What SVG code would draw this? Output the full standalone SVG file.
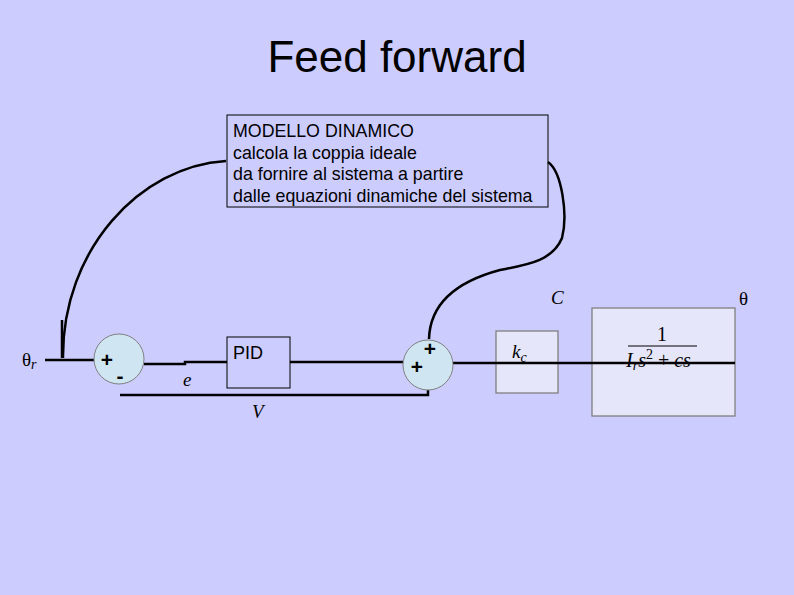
<svg xmlns="http://www.w3.org/2000/svg" width="794" height="595" viewBox="0 0 794 595">
<style>
.sans{font-family:"Liberation Sans",Arial,sans-serif;fill:#000}
.math{font-family:"Liberation Serif","DejaVu Serif",serif;font-style:italic;fill:#000}
.sym{font-family:"Liberation Serif","DejaVu Serif",serif;fill:#000}
.blk{fill:#e6e6fa;stroke:#808080;stroke-width:1.3}
.sum{fill:#cfe6f2;stroke:#808080;stroke-width:1}
.wire{fill:none;stroke:#000;stroke-width:2.5}
.pm{font-family:"Liberation Sans",Arial,sans-serif;font-size:21px;font-weight:bold;fill:#000;text-anchor:middle}
</style>
<rect x="0" y="0" width="794" height="595" fill="#ccccff"/>
<text class="sans" x="397" y="72" font-size="44" text-anchor="middle">Feed forward</text>

<g id="model">
<rect x="227" y="115" width="321" height="92" fill="#ccccff" stroke="#000" stroke-width="1"/>
<text class="sans" font-size="17.8">
<tspan x="233" y="137">MODELLO DINAMICO</tspan>
<tspan x="233" y="159">calcola la coppia ideale</tspan>
<tspan x="233" y="180">da fornire al sistema a partire</tspan>
<tspan x="233" y="202">dalle equazioni dinamiche del sistema</tspan>
</text>
</g>

<g id="pid">
<rect x="227" y="337" width="63" height="51" fill="#ccccff" stroke="#000" stroke-width="1"/>
<text class="sans" x="233" y="359" font-size="18">PID</text>
</g>

<g id="kc">
<rect class="blk" x="496" y="331" width="62" height="62"/>
<text class="math" x="512" y="358" font-size="19">k<tspan font-size="14" dy="4">c</tspan></text>
</g>

<g id="plant">
<rect class="blk" x="592" y="308" width="143" height="108"/>
<text class="sym" x="662" y="341" font-size="20" text-anchor="middle">1</text>
<line x1="628" y1="346" x2="697" y2="346" stroke="#000" stroke-width="1"/>
<text class="math" x="626" y="367" font-size="20">I<tspan font-size="14" dy="3">r</tspan><tspan dy="-3">s</tspan><tspan font-style="normal" font-size="14" dy="-8">2</tspan><tspan font-style="normal" dy="8"> + </tspan>cs</text>
</g>

<g id="connectors">
<path class="wire" d="M45 360 H94"/>
<path class="wire" d="M144 364 H185 V362 H227"/>
<path class="wire" d="M290 362 H403"/>
<path class="wire" d="M120 395 H428 V390"/>
<path class="wire" d="M453 363 H735"/>
<path class="wire" d="M226 161 C140 166 62 250 63 358"/>
<path class="wire" stroke-width="1.5" d="M62 320 V358"/>
<path class="wire" d="M548 162 C562 172 568 215 562 238 C552 262 525 265 500 270 C455 282 430 305 429 339"/>
</g>

<g id="sum1">
<circle class="sum" cx="119" cy="359" r="25"/>
<text class="pm" x="107" y="367">+</text>
<text class="pm" x="120" y="383">-</text>
</g>

<g id="sum2">
<circle class="sum" cx="428" cy="365" r="25"/>
<text class="pm" x="430" y="356">+</text>
<text class="pm" x="417" y="374">+</text>
</g>

<g id="labels">
<text class="sym" x="22" y="366" font-size="19">θ<tspan class="math" font-size="14" dy="3">r</tspan></text>
<text class="math" x="183" y="386" font-size="19">e</text>
<text class="math" x="252" y="418" font-size="19">V</text>
<text class="math" x="551" y="304" font-size="19">C</text>
<text class="sym" x="739" y="305" font-size="19">θ</text>
</g>
</svg>
